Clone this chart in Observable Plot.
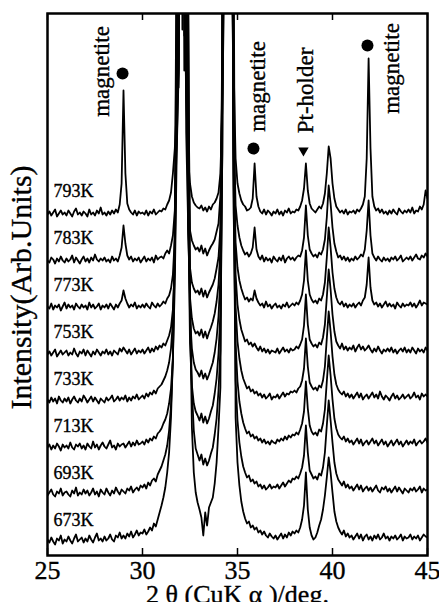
<!DOCTYPE html>
<html><head><meta charset="utf-8">
<script src="https://cdn.jsdelivr.net/npm/d3@7"></script>
<script src="https://cdn.jsdelivr.net/npm/@observablehq/plot@0.6"></script>
<style>body{margin:0;background:#fff} svg{display:block} svg text{stroke:#000;stroke-width:0.35px}</style>
</head><body><div id="chart"></div>
<script>
// Temperatures, bottom to top
const temperatures = ["673K","693K","713K","733K","753K","773K","783K","793K"];
// 2θ sampling grid: 25.0 .. 45.0, step 0.1 deg (201 points per scan)
const angleStart = 25, angleStep = 0.1;
// Intensities (arb. units), one row per degree
const i673 = [
8,5,10,6,3,9,7,12,4,8,
6,11,7,4,9,13,6,8,10,5,
9,6,12,8,5,10,14,7,9,6,
11,7,9,13,8,6,12,10,15,9,
12,9,14,11,16,10,13,17,12,15,
14,18,13,16,20,17,24,21,28,35,
42,50,60,75,95,130,190,320,620,460,
900,700,900,480,560,250,120,75,55,45,
38,30,12,35,22,40,45,50,64,85,
120,160,480,900,900,900,900,750,600,130,
85,62,46,36,29,24,26,20,22,18,
20,15,17,13,16,12,10,14,11,9,
12,8,11,14,9,13,10,15,12,16,
14,17,15,20,28,42,75,38,20,12,
8,10,15,22,28,38,52,70,90,75,
55,36,26,20,16,13,17,11,14,10,
12,8,11,14,9,13,7,11,13,8,
11,7,12,9,13,8,10,14,9,11,
7,11,9,12,8,10,13,7,11,9,
10,13,8,11,9,12,7,10,13,11,
10];
const i693 = [
5,8,11,6,4,9,7,12,5,8,
9,6,4,10,7,13,5,8,6,11,
7,10,5,8,12,6,9,4,11,8,
6,12,8,5,10,7,13,9,6,11,
9,7,12,10,14,8,11,13,10,15,
13,16,12,18,15,20,22,19,26,30,
34,40,46,55,70,95,140,250,520,900,
600,900,430,900,520,200,110,70,52,46,
40,46,36,42,35,40,47,53,66,82,
110,150,350,900,700,900,900,700,300,120,
80,58,44,34,28,23,25,19,21,17,
19,14,16,12,15,11,13,16,12,14,
13,16,12,15,18,14,17,20,18,22,
21,24,22,27,33,45,75,48,30,26,
22,24,21,27,25,33,48,75,100,80,
58,38,27,21,18,15,19,13,16,12,
14,10,13,16,11,15,9,12,14,10,
13,9,12,15,10,8,13,11,14,9,
12,8,11,14,9,13,10,7,12,10,
8,12,10,13,9,11,14,8,12,10,
11];
const i713 = [
6,9,4,8,5,10,7,3,9,6,
8,5,11,6,4,9,7,10,5,8,
4,10,7,5,12,6,9,4,8,11,
7,5,9,13,6,8,4,10,7,9,
10,6,9,12,7,11,8,13,9,10,
12,9,14,11,15,13,17,15,20,22,
25,30,34,40,50,65,95,170,300,380,
900,520,900,700,260,110,68,50,42,38,
33,40,31,37,30,35,42,48,60,75,
100,140,300,620,900,900,900,650,240,110,
72,52,40,31,25,20,22,17,19,15,
17,13,15,11,14,10,12,9,13,11,
10,14,12,15,13,17,14,18,16,19,
18,21,19,24,30,42,72,45,28,22,
19,21,18,24,22,30,44,72,98,78,
54,35,25,19,16,14,17,12,15,11,
13,9,12,15,10,14,8,11,13,9,
12,15,10,13,8,11,14,9,12,7,
10,13,8,11,14,9,12,7,10,13,
9,12,10,14,8,11,13,10,12,15,
11];
const i733 = [
7,4,9,5,8,3,10,6,4,8,
5,9,3,7,10,6,4,8,5,11,
8,4,7,10,5,9,6,3,8,6,
4,9,6,8,11,5,7,10,6,9,
7,11,5,9,6,10,8,12,7,9,
11,8,13,10,14,12,16,13,18,20,
22,26,30,36,44,58,85,150,300,900,
900,900,410,900,200,90,58,44,37,34,
30,36,28,33,27,32,38,44,54,68,
90,130,380,900,900,900,900,600,220,100,
65,48,36,28,23,18,20,15,17,13,
15,11,13,9,12,8,10,13,7,10,
9,12,8,11,14,10,13,12,15,14,
16,14,18,20,26,38,68,40,24,20,
17,19,16,21,19,26,40,68,95,75,
50,32,22,17,14,12,15,10,13,9,
12,8,11,14,9,13,7,10,12,8,
11,14,9,12,8,15,10,7,11,9,
6,10,13,8,11,7,9,12,8,10,
12,8,10,14,9,11,7,13,10,12,
10];
const i753 = [
5,8,4,7,10,3,6,9,5,7,
9,4,7,5,11,6,3,8,6,10,
4,9,6,3,8,5,10,7,4,8,
6,10,5,8,4,9,7,5,11,8,
12,9,6,10,5,8,11,6,9,7,
10,6,9,12,7,11,8,13,10,14,
12,16,14,19,24,32,50,95,250,700,
900,330,900,400,130,62,41,31,26,28,
24,30,22,28,21,27,32,38,46,58,
75,110,300,900,900,500,900,550,190,85,
55,40,30,24,18,20,15,17,13,16,
12,9,13,8,11,7,10,6,9,8,
7,11,6,9,12,8,10,7,11,9,
10,13,11,15,20,34,65,35,20,16,
13,15,12,17,15,22,35,62,90,70,
45,28,18,14,11,16,10,13,9,12,
10,14,8,12,15,10,13,9,11,14,
10,7,11,8,13,9,6,10,8,11,
8,12,7,10,6,9,11,8,12,7,
10,7,12,9,6,11,8,10,7,12,
9];
const i773 = [
6,4,9,3,7,5,8,2,6,10,
4,8,5,7,3,9,6,4,8,5,
7,3,10,5,8,4,6,9,3,7,
5,8,4,9,6,3,8,5,9,12,
22,14,9,5,8,6,10,4,7,5,
8,5,9,6,4,10,7,5,9,6,
8,11,9,14,17,24,38,75,200,260,
600,900,500,180,90,45,30,24,20,22,
18,24,16,22,15,20,24,28,34,44,
55,85,220,900,700,900,900,480,160,70,
45,32,24,18,13,15,11,14,12,22,
14,10,7,9,5,11,6,8,4,7,
9,5,7,4,8,6,10,5,7,9,
7,10,8,12,18,32,62,32,18,13,
10,12,9,14,12,18,30,55,85,65,
40,24,15,10,8,11,6,9,5,8,
6,9,5,8,10,7,12,15,28,55,
25,12,8,10,6,9,5,8,11,6,
9,6,8,4,10,7,5,9,6,8,
7,10,6,9,5,8,12,7,10,9,
8];
const i783 = [
5,3,8,6,2,7,4,9,5,3,
7,4,6,10,3,8,5,2,6,9,
4,7,3,8,5,11,6,4,7,5,
8,4,6,3,9,5,7,4,10,18,
40,22,10,6,9,4,7,5,8,3,
6,9,4,7,5,8,3,10,6,8,
9,7,12,15,12,20,30,55,120,200,
900,900,230,380,140,35,25,20,16,18,
14,20,12,17,10,15,19,22,26,34,
42,70,180,420,900,900,600,330,140,60,
40,28,20,15,11,13,9,12,18,38,
16,9,6,10,4,8,5,7,3,9,
6,4,8,5,10,3,7,9,6,8,
5,8,10,9,15,28,60,30,16,12,
9,11,8,13,11,16,26,48,80,62,
38,22,14,8,10,6,9,5,8,4,
7,5,9,6,8,11,9,16,35,65,
30,12,8,5,9,6,4,8,5,7,
4,8,6,9,5,7,10,4,6,8,
6,9,5,8,11,7,6,10,8,12,
9];
const i793 = [
4,7,3,6,9,2,5,8,4,6,
3,8,5,2,7,10,4,6,3,7,
5,2,9,4,6,3,8,5,11,4,
6,3,7,4,8,5,9,6,14,35,
128,45,15,9,6,4,8,3,7,5,
6,4,8,3,7,5,9,4,6,8,
7,10,9,14,18,26,45,70,110,150,
900,700,260,120,60,35,22,16,13,11,
10,13,8,11,7,12,9,14,16,20,
26,45,110,240,900,700,900,500,150,60,
35,25,18,14,12,8,9,11,20,55,
22,12,7,5,9,4,8,6,3,7,
5,9,4,7,3,8,6,10,5,7,
6,9,8,12,18,30,55,28,15,10,
8,6,9,12,10,15,25,45,72,60,
35,20,12,9,6,8,5,9,4,7,
6,8,5,9,7,10,14,22,60,160,
70,22,12,8,10,6,9,5,7,4,
8,5,9,6,4,10,7,5,8,6,
9,6,11,5,8,7,12,9,14,28,
20];
const scans = [i673, i693, i713, i733, i753, i773, i783, i793];
const xTicks = [25, 30, 35, 40, 45];
// Annotations
const annoText = ["magnetite", "magnetite", "Pt-holder", "magnetite"];
const annoAngle = [27.84, 36.05, 38.6, 43.1];
const annoLevel = [484, 469, 465, 487];
const dotAngle = [28.95, 35.84, 41.84];
const dotLevel = [482, 407, 510];
const holderAngle = [38.47];
const holderLevel = [405];

const STEP = 47, BASE = 8;
const rows = [];
scans.forEach((vals, k) => vals.forEach((v, j) => rows.push({
  t: temperatures[k], angle: +(angleStart + j * angleStep).toFixed(1), y: v + BASE + k * STEP
})));
const tempLabels = temperatures.map((t, k) => ({t, y: BASE + k * STEP + 27}));
const annos = annoText.map((text, k) => ({text, x: annoAngle[k], y: annoLevel[k]}));
const dots = dotAngle.map((x, k) => ({x, y: dotLevel[k]}));
const tri = holderAngle.map((x, k) => ({x, y: holderLevel[k]}));

const FONT = "'Liberation Serif','Times New Roman',serif";
const chart = Plot.plot({
  width: 439, height: 602,
  marginLeft: 47, marginRight: 12, marginTop: 13, marginBottom: 47,
  style: {fontFamily: FONT, background: "white", color: "black"},
  x: {domain: [25, 45]},
  y: {domain: [0, 542], axis: null},
  marks: [
    Plot.line(rows, {x: "angle", y: "y", z: "t", stroke: "black", strokeWidth: 1.8, clip: true}),
    Plot.ruleX(xTicks, {y1: 0, y2: 7, stroke: "black", strokeWidth: 1.5}),
    Plot.ruleX(xTicks, {y1: 535, y2: 542, stroke: "black", strokeWidth: 1.5}),
    Plot.frame({stroke: "black", strokeWidth: 2.5}),
    Plot.axisX({ticks: xTicks, tickSize: 0, tickPadding: 5, fontSize: 26, label: null, tickFormat: d => String(d)}),
    Plot.text(["2 θ (CuK α )/deg."], {frameAnchor: "bottom", lineAnchor: "middle", dy: 39, fontSize: 26, fill: "black"}),
    Plot.text(["Intensity(Arb.Units)"], {frameAnchor: "left", textAnchor: "middle", lineAnchor: "middle", dx: -26, dy: 3, rotate: -90, fontSize: 30, fill: "black"}),
    Plot.text(tempLabels, {frameAnchor: "left", y: "y", text: "t", dx: 6, textAnchor: "start", fontSize: 18, fill: "black"}),
    Plot.text(annos, {x: "x", y: "y", text: "text", rotate: -90, fontSize: 23, fill: "black"}),
    Plot.dot(dots, {x: "x", y: "y", r: 6, fill: "black"}),
    Plot.dot(tri, {x: "x", y: "y", symbol: "triangle2", rotate: 180, r: 5, fill: "black"})
  ]
});
document.getElementById("chart").append(chart);
</script>
</body></html>
